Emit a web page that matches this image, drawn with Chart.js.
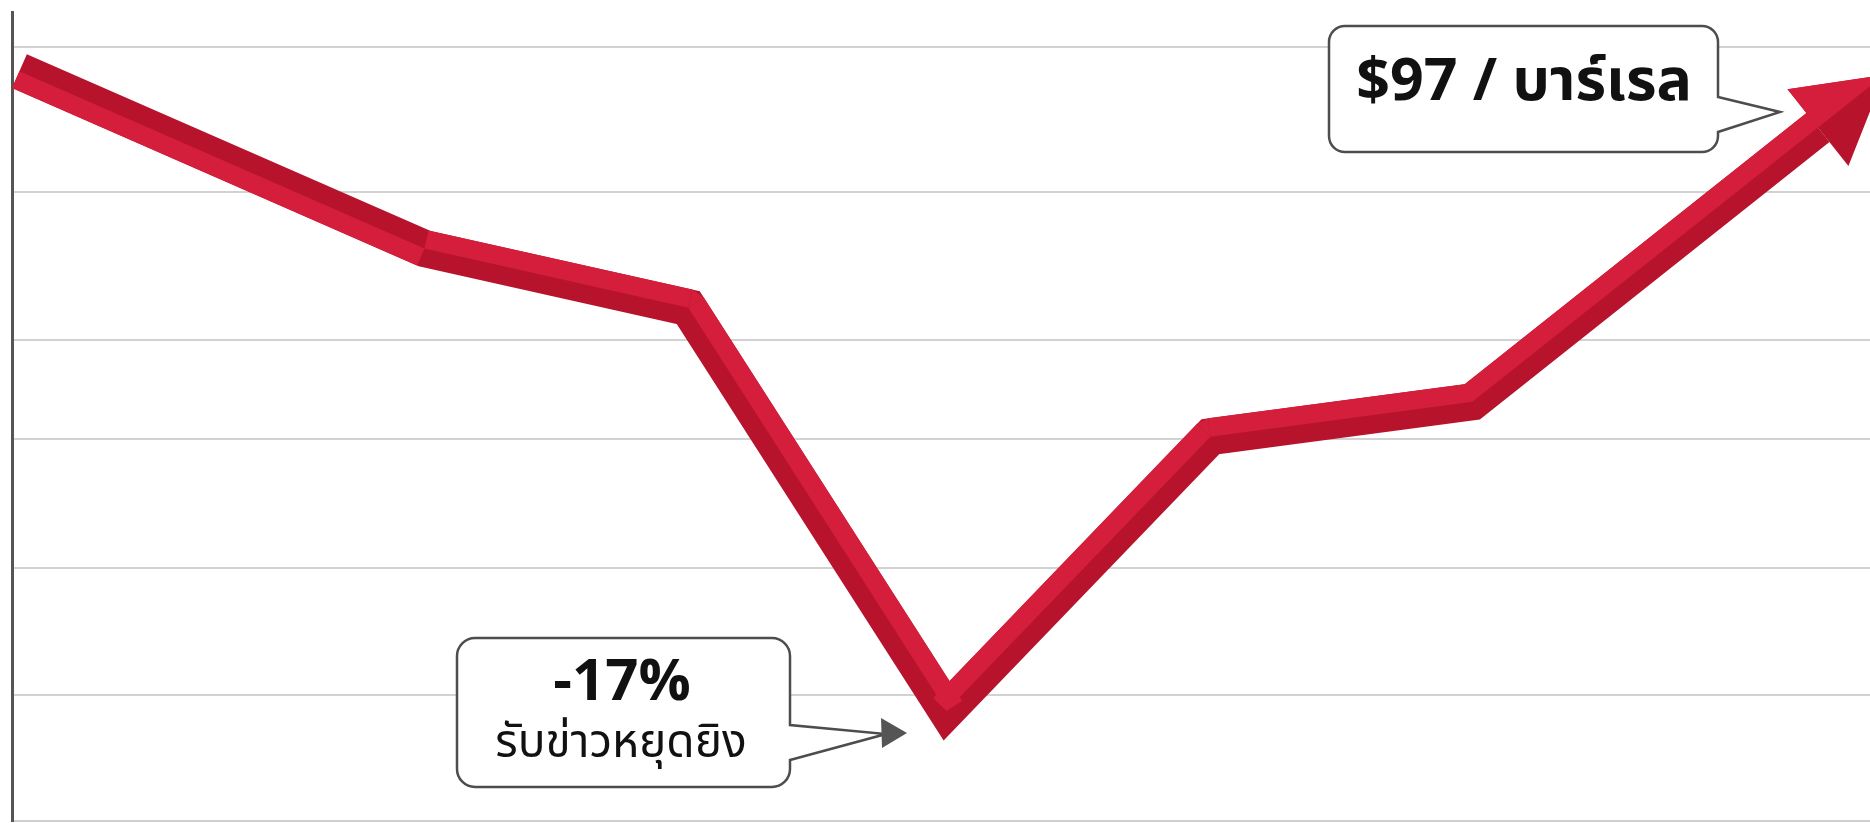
<!DOCTYPE html>
<html>
<head>
<meta charset="utf-8">
<script src="https://cdn.jsdelivr.net/npm/chart.js@4.4.1/dist/chart.umd.min.js"></script>
<style>
    html, body { margin: 0; padding: 0; background: #fff; }
    #wrap { width: 1870px; height: 823px; position: relative; }
</style>
</head>
<body>
<div id="wrap"><canvas id="oilChart"></canvas></div>
<script>
// price path (USD / barrel)
const dayX = [0.4, 22.2, 36.4, 50.3, 64.5, 78.6, 97.2];
const priceY = [97.3, 90.7, 88.5, 73.5, 83.7, 85.0, 95.2];
const gridTicks = [74.1, 78.8, 83.6, 87.3, 92.8, 98.2];

const topLabel = '$97 / บาร์เรล';
const lowLabel = ['-17%', 'รับข่าวหยุดยิง'];

const LIGHT = '#d41e3b';
const DARK = '#b8132d';
const LINE_W = 37;
const THAI_FONT = '"Noto Sans Thai", "Noto Sans", "Loma", "Garuda", sans-serif';

// which side of each segment gets the lighter face (+1 = right-hand normal)
const lightSide = [1, -1, -1, -1, -1, -1];

function unit(a, b) {
    const dx = b.x - a.x, dy = b.y - a.y;
    const len = Math.hypot(dx, dy);
    return { x: dx / len, y: dy / len };
}

const ribbonPlugin = {
    id: 'ribbon',
    afterDatasetsDraw(chart) {
        const ctx = chart.ctx;
        const pts = chart.getDatasetMeta(0).data.map(p => ({ x: p.x, y: p.y }));
        const h = LINE_W / 2;
        ctx.save();
        ctx.fillStyle = LIGHT;
        for (let i = 0; i < pts.length - 1; i++) {
            const a = pts[i], b = pts[i + 1];
            const d = unit(a, b);
            const s = lightSide[i];
            const n = { x: -d.y * s * h, y: d.x * s * h };
            ctx.beginPath();
            ctx.moveTo(a.x, a.y);
            ctx.lineTo(b.x, b.y);
            ctx.lineTo(b.x + n.x, b.y + n.y);
            ctx.lineTo(a.x + n.x, a.y + n.y);
            ctx.closePath();
            ctx.fill();
            // close the gap at the joint when the next segment keeps the same side
            if (i < pts.length - 2 && lightSide[i + 1] === s) {
                const d2 = unit(b, pts[i + 2]);
                const n2 = { x: -d2.y * s * h, y: d2.x * s * h };
                ctx.beginPath();
                ctx.moveTo(b.x, b.y);
                ctx.lineTo(b.x + n.x, b.y + n.y);
                ctx.lineTo(b.x + n2.x, b.y + n2.y);
                ctx.closePath();
                ctx.fill();
            }
        }

        // arrow head at the end of the line
        const last = pts[pts.length - 1];
        const d = unit(pts[pts.length - 2], last);
        const p = { x: d.y, y: -d.x };
        const half = 49, len = 85;
        const tip = { x: last.x + d.x * len, y: last.y + d.y * len };
        ctx.fillStyle = DARK;
        ctx.beginPath();
        ctx.moveTo(last.x - p.x * half, last.y - p.y * half);
        ctx.lineTo(tip.x, tip.y);
        ctx.lineTo(last.x + p.x * half, last.y + p.y * half);
        ctx.closePath();
        ctx.fill();
        ctx.fillStyle = LIGHT;
        ctx.beginPath();
        ctx.moveTo(last.x, last.y);
        ctx.lineTo(tip.x, tip.y);
        ctx.lineTo(last.x + p.x * half, last.y + p.y * half);
        ctx.closePath();
        ctx.fill();
        ctx.restore();
    },
};

function bubble(ctx, x0, y0, x1, y1, r, tail) {
    ctx.beginPath();
    ctx.moveTo(x0 + r, y0);
    ctx.lineTo(x1 - r, y0);
    ctx.arcTo(x1, y0, x1, y0 + r, r);
    ctx.lineTo(x1, tail[0]);
    ctx.lineTo(tail[1], tail[2]);
    ctx.lineTo(x1, tail[3]);
    ctx.lineTo(x1, y1 - r);
    ctx.arcTo(x1, y1, x1 - r, y1, r);
    ctx.lineTo(x0 + r, y1);
    ctx.arcTo(x0, y1, x0, y1 - r, r);
    ctx.lineTo(x0, y0 + r);
    ctx.arcTo(x0, y0, x0 + r, y0, r);
    ctx.closePath();
    ctx.fillStyle = '#fff';
    ctx.fill();
    ctx.strokeStyle = '#4d4d4d';
    ctx.lineWidth = 2.5;
    ctx.stroke();
}

const calloutPlugin = {
    id: 'callouts',
    afterDraw(chart) {
        const ctx = chart.ctx;
        ctx.save();
        ctx.textAlign = 'center';
        ctx.textBaseline = 'middle';

        bubble(ctx, 1329, 26, 1718, 152, 16, [97, 1780, 112, 132]);
        ctx.fillStyle = '#111';
        ctx.font = 'bold 59px ' + THAI_FONT;
        ctx.fillText(topLabel, 1524, 88);

        bubble(ctx, 457, 638, 790, 787, 18, [725, 886, 734, 760]);
        ctx.fillStyle = '#555';
        ctx.beginPath();
        ctx.moveTo(881, 718);
        ctx.lineTo(907, 733);
        ctx.lineTo(882, 748);
        ctx.closePath();
        ctx.fill();

        ctx.fillStyle = '#111';
        ctx.font = 'bold 58px ' + THAI_FONT;
        ctx.fillText(lowLabel[0], 622, 688);
        ctx.font = '46px ' + THAI_FONT;
        ctx.fillText(lowLabel[1], 621, 748);
        ctx.restore();
    },
};

new Chart(document.getElementById('oilChart'), {
    type: 'line',
    data: {
        datasets: [{
            data: dayX.map((x, i) => ({ x, y: priceY[i] })),
            borderColor: DARK,
            borderWidth: LINE_W,
            borderJoinStyle: 'miter',
            borderCapStyle: 'butt',
            pointRadius: 0,
            tension: 0,
            fill: false,
            clip: false,
        }],
    },
    options: {
        responsive: true,
        maintainAspectRatio: false,
        devicePixelRatio: 1,
        animation: false,
        layout: { padding: { left: 12, top: 12, right: 0, bottom: 2 } },
        plugins: { legend: { display: false }, tooltip: { enabled: false } },
        scales: {
            x: {
                type: 'linear',
                min: 0,
                max: 100,
                ticks: { display: false },
                grid: { display: false, drawTicks: false },
                border: { display: true, color: '#cfcfcf', width: 2 },
            },
            y: {
                min: 69.4,
                max: 99.5,
                afterBuildTicks: (scale) => {
                    scale.ticks = gridTicks.map(v => ({ value: v }));
                },
                ticks: { display: false },
                grid: { color: '#d2d2d2', lineWidth: 2, drawTicks: false },
                border: { display: true, color: '#555', width: 3 },
            },
        },
    },
    plugins: [ribbonPlugin, calloutPlugin],
});
</script>
</body>
</html>
